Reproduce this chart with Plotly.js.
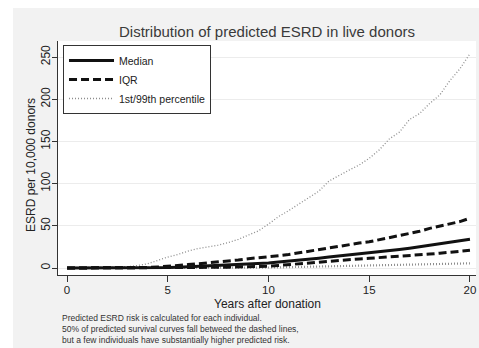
<!DOCTYPE html>
<html>
<head>
<meta charset="utf-8">
<script src="https://cdn.plot.ly/plotly-3.0.1.min.js"></script>
<style>
  html, body { margin: 0; padding: 0; background: #ffffff; width: 479px; height: 348px; overflow: hidden; }
  #chart { position: absolute; left: 13px; top: 8px; width: 466px; height: 340px; }
</style>
</head>
<body>
<div id="chart"></div>
<script>
// Years after donation
const years = [0, 0.5, 1, 1.5, 2, 2.5, 3, 3.5, 4, 4.5, 5, 5.5, 6, 6.5, 7, 7.5, 8, 8.5, 9, 9.5, 10,
               10.5, 11, 11.5, 12, 12.5, 13, 13.5, 14, 14.5, 15, 15.5, 16, 16.5, 17, 17.5, 18, 18.5, 19, 19.5, 20];
// ESRD per 10,000 donors
const median = [0, 0, 0, 0, 0, 0, 0, 0, 0, 0.2, 0.5, 1.0, 1.5, 2.0, 2.5, 3.0, 3.5, 4.2, 5.0, 5.4, 6.0,
                7.0, 8.0, 9.2, 10.5, 11.6, 13.0, 14.2, 15.5, 16.4, 17.5, 19.0, 20.5, 22.0, 23.5, 25.2, 27.0, 28.4, 30.0, 31.8, 34.0];
const q3 = [0, 0, 0, 0, 0, 0, 0.1, 0.2, 0.5, 1.2, 2.4, 3.2, 4.0, 5.0, 6.0, 7.0, 8.0, 9.5, 11.0, 12.0, 13.0,
            14.5, 16.0, 18.0, 20.0, 21.5, 24.0, 26.0, 28.0, 29.5, 31.0, 33.5, 36.0, 38.5, 41.0, 43.5, 47.0, 49.5, 52.0, 55.0, 59.0];
const q1 = [0, 0, 0, 0, 0, 0, 0, 0, 0, 0, 0, 0.1, 0.3, 0.4, 0.6, 0.8, 1.0, 1.2, 1.5, 1.8, 2.2,
            3.0, 4.0, 5.3, 6.5, 7.6, 8.5, 9.3, 10.0, 10.8, 11.5, 12.2, 13.0, 13.8, 14.5, 15.4, 16.5, 17.5, 18.5, 19.6, 21.0];
const p99 = [0, 0, 0, 0.1, 0.5, 1.0, 1.5, 3.0, 5.0, 9.0, 13.0, 16.0, 20.0, 23.0, 25.0, 27.0, 30.0, 34.0, 39.0, 44.0, 52.0,
             61.0, 68.0, 76.0, 83.0, 91.0, 103.0, 110.0, 116.0, 122.0, 130.0, 140.0, 153.0, 161.0, 176.0, 183.0, 195.0, 205.0, 222.0, 236.0, 254.0];
const p1 = [0, 0, 0, 0, 0, 0, 0, 0, 0, 0, 0, 0, 0, 0, 0, 0, 0, 0, 0, 0, 0.2,
            0.6, 1.0, 1.2, 1.5, 1.8, 2.0, 2.2, 2.5, 2.8, 3.0, 3.2, 3.5, 3.8, 4.0, 4.2, 4.5, 4.8, 5.0, 5.2, 5.5];

const xTicks = [0, 5, 10, 15, 20];
const yTicks = [0, 50, 100, 150, 200, 250];

const titleText = 'Distribution of predicted ESRD in live donors';
const xTitle = 'Years after donation';
const yTitle = 'ESRD per 10,000 donors';
const noteLines = [
  'Predicted ESRD risk is calculated for each individual.',
  '50% of predicted survival curves fall betweed the dashed lines,',
  'but a few individuals have substantially higher predicted risk.'
];

const FONT = 'Liberation Sans, Arial, Helvetica, sans-serif';

const traces = [
  { x: years, y: p99, type: 'scatter', mode: 'lines', name: '1st/99th percentile',
    legendgroup: 'pct', showlegend: false,
    line: { color: '#8c8c8c', width: 1.3, dash: '1px,2px' } },
  { x: years, y: p1, type: 'scatter', mode: 'lines', name: '1st/99th percentile',
    legendgroup: 'pct', showlegend: false,
    line: { color: '#8c8c8c', width: 2.2, dash: '1px,2px' } },
  { x: years, y: q1, type: 'scatter', mode: 'lines', name: 'IQR',
    legendgroup: 'iqr', showlegend: false,
    line: { color: '#111111', width: 3, dash: '8px,4px' } },
  { x: years, y: q3, type: 'scatter', mode: 'lines', name: 'IQR',
    legendgroup: 'iqr', showlegend: false,
    line: { color: '#111111', width: 3, dash: '8px,4px' } },
  { x: years, y: median, type: 'scatter', mode: 'lines', name: 'Median',
    line: { color: '#111111', width: 3 } },
  // legend-only entries (in the order shown in the legend)
  { x: [null], y: [null], type: 'scatter', mode: 'lines', name: 'IQR', legendgroup: 'iqr',
    line: { color: '#111111', width: 3, dash: '8px,4px' } },
  { x: [null], y: [null], type: 'scatter', mode: 'lines', name: '1st/99th percentile', legendgroup: 'pct',
    line: { color: '#8c8c8c', width: 1.3, dash: '1px,2px' } }
];

const annotations = [
  {
    text: noteLines.join('<br>'), xref: 'paper', yref: 'paper', x: 0.007, y: -0.2308,
    xanchor: 'left', yanchor: 'middle', align: 'left', showarrow: false, borderpad: 0,
    font: { family: FONT, size: 8.5, color: '#333333' }
  },
  {
    text: xTitle, xref: 'paper', yref: 'paper', x: 0.5, y: -0.1239,
    xanchor: 'center', yanchor: 'middle', showarrow: false, borderpad: 0,
    font: { family: FONT, size: 12, color: '#222222' }
  },
  {
    text: yTitle, xref: 'paper', yref: 'paper', x: -0.0646, y: 0.47, textangle: -90,
    xanchor: 'center', yanchor: 'middle', showarrow: false, borderpad: 0,
    font: { family: FONT, size: 12, color: '#222222' }
  }
];

const layout = {
  width: 466, height: 340,
  margin: { l: 45, r: 3, t: 33, b: 73 },
  paper_bgcolor: '#f2f2f2',
  plot_bgcolor: '#ffffff',
  font: { family: FONT, color: '#222222' },
  title: { text: titleText, x: 0.5, xref: 'paper', y: 0.930, yref: 'container',
           xanchor: 'center', yanchor: 'middle',
           font: { family: FONT, size: 15, color: '#3a3a3a' } },
  xaxis: {
    range: [-0.45, 20.3], tickvals: xTicks, ticktext: xTicks.map(String),
    showgrid: false, zeroline: false, showline: true, linecolor: '#333333', linewidth: 1,
    ticks: 'outside', ticklen: 6, tickcolor: '#333333', ticklabelstandoff: -2,
    tickfont: { family: FONT, size: 11.5, color: '#222222' }
  },
  yaxis: {
    range: [-8.3, 269], tickvals: yTicks, ticktext: yTicks.map(String), tickangle: -90,
    showgrid: true, gridcolor: '#ececec', gridwidth: 1, zeroline: false,
    showline: true, linecolor: '#333333', linewidth: 1,
    ticks: 'outside', ticklen: 5, tickcolor: '#333333', ticklabelstandoff: -3,
    tickfont: { family: FONT, size: 12, color: '#222222' }
  },
  legend: {
    x: 0.012, y: 0.983, xanchor: 'left', yanchor: 'top',
    bgcolor: '#ffffff', bordercolor: '#333333', borderwidth: 1,
    font: { family: FONT, size: 10.5, color: '#222222' },
    itemwidth: 45, tracegroupgap: 0, traceorder: 'normal'
  },
  annotations: annotations,
  showlegend: true
};

Plotly.newPlot('chart', traces, layout, { displayModeBar: false, staticPlot: true });
</script>
</body>
</html>
